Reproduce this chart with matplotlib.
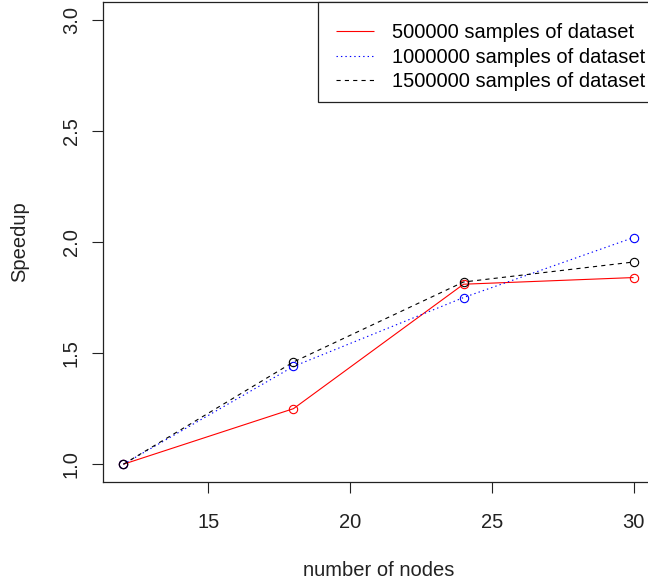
import matplotlib

matplotlib.use("Agg")
import matplotlib.pyplot as plt  # noqa: E402
from matplotlib.patches import Rectangle  # noqa: E402

plt.rcParams["font.family"] = ["Liberation Sans", "DejaVu Sans"]
plt.rcParams["lines.scale_dashes"] = False

nodes = [12, 18, 24, 30]
speed_500k = [1.00, 1.25, 1.81, 1.84]
speed_1000k = [1.00, 1.44, 1.75, 2.02]
speed_1500k = [1.00, 1.46, 1.82, 1.91]
labels = ["500000 samples of dataset", "1000000 samples of dataset",
          "1500000 samples of dataset"]
x_ticks = [15, 20, 25, 30]
y_ticks = [1.0, 1.5, 2.0, 2.5, 3.0]

FS = 14.5
W, H = 648, 586
fig = plt.figure(figsize=(W / 100, H / 100), dpi=100)
# plot region in pixels: left 103, right 654 (clipped by the image), top 2, bottom 482
L, R, T, B = 103, 654, 2, 482
ax = fig.add_axes([L / W, 1 - B / H, (R - L) / W, (B - T) / H])

styles = [("red", (0, ()), speed_500k),
          ("blue", (0, (1, 2.2)), speed_1000k),
          ("black", (0, (3, 3)), speed_1500k)]
handles = []
for (col, ls, ys), lab in zip(styles, labels):
    ax.plot(nodes, ys, color=col, lw=0.8, linestyle=ls)
    ax.plot(nodes, ys, "o", mfc="none", mec=col, ms=6, mew=0.8)
    h, = ax.plot([], [], color=col, lw=0.8, linestyle=ls, label=lab)
    handles.append(h)

ax.set_xlim(11.28, 30.72)
ax.set_ylim(0.92, 3.08)
ax.set_xticks(x_ticks)
ax.set_yticks(y_ticks)
ax.set_xticklabels([str(t) for t in x_ticks], fontsize=FS)
ax.set_yticklabels([f"{t:.1f}" for t in y_ticks], fontsize=FS, rotation=90,
                   va="center")
ax.tick_params(direction="out", length=8, width=0.8, colors="#222222")
ax.tick_params(axis="x", pad=14)
ax.tick_params(axis="y", pad=8)
for s in ax.spines.values():
    s.set_linewidth(0.9)
    s.set_color("#222222")

fig.text(379 / W, 1 - 570 / H, "number of nodes", ha="center", va="center",
         fontsize=FS, color="#222222")
fig.text(20 / W, 1 - 242 / H, "Speedup", ha="center", va="center",
         rotation=90, fontsize=FS, color="#222222")

# legend box (R style: frame drawn separately, extends past the crop)
lx0 = (318 - L) / (R - L)
ly0 = (B - 102) / (B - T)
ax.add_patch(Rectangle((lx0, ly0), 1 - lx0, 1 - ly0, transform=ax.transAxes,
                       fill=True, facecolor="white", edgecolor="#222222",
                       lw=0.9, clip_on=False, zorder=4))
leg = ax.legend(handles=handles, loc="upper left",
                bbox_to_anchor=((315 - L) / (R - L), 1.0),
                fontsize=FS, frameon=False, borderpad=1.05,
                handlelength=1.9, handletextpad=0.85, labelspacing=0.28,
                borderaxespad=0)
leg.set_zorder(5)

fig.savefig("out.png", dpi=100)
